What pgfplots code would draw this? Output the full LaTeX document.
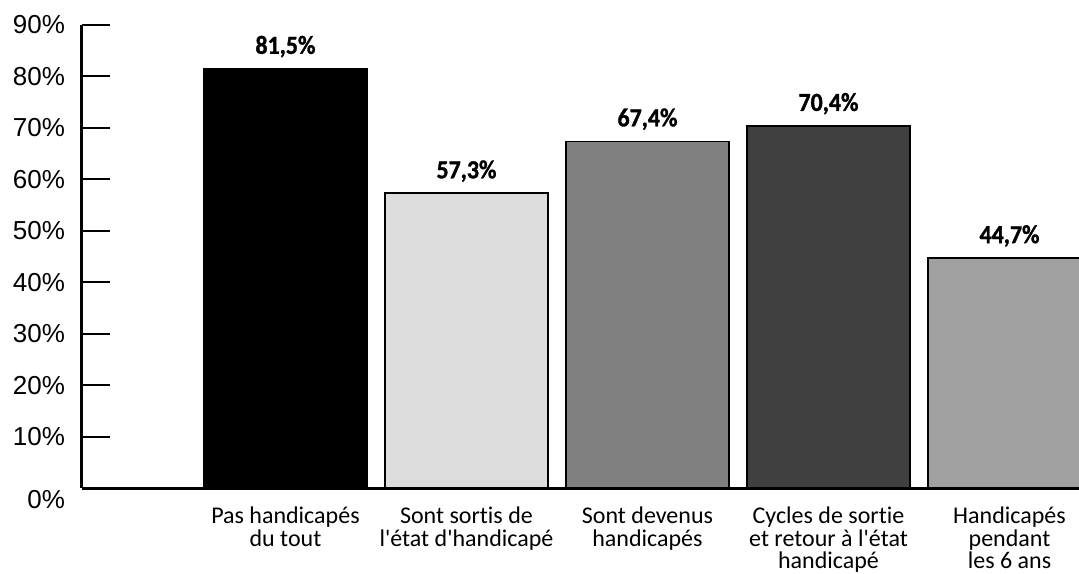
\documentclass[border=0pt]{standalone}
\usepackage{fontspec}
\setmainfont{Liberation Sans}
\newfontfamily\catfont[Ligatures=NoCommon]{Carlito}
\newfontfamily\valfont[BoldFeatures={FakeBold=1.2}, FakeStretch=0.92]{Carlito}
\usepackage{pgfplots}
\pgfplotsset{compat=1.18}
\definecolor{barA}{HTML}{000000}
\definecolor{barB}{HTML}{DDDDDD}
\definecolor{barC}{HTML}{808080}
\definecolor{barD}{HTML}{404040}
\definecolor{barE}{HTML}{A0A0A0}
\begin{document}
\begin{tikzpicture}
\useasboundingbox (0,0) rectangle (539.5pt,286.5pt);
\begin{axis}[
  at={(41pt,42.5pt)}, anchor=south west,
  scale only axis, width=498.5pt, height=231.5pt,
  xmin=-0.124, xmax=5.384, ymin=0, ymax=90,
  axis x line=bottom, axis y line=left,
  axis line style={-, line width=1.5pt},
  ytick={10,20,...,90},
  yticklabels={10\%,20\%,30\%,40\%,50\%,60\%,70\%,80\%,90\%},
  extra y ticks={0}, extra y tick labels={0\%},
  extra y tick style={yticklabel style={yshift=-6pt}},
  y tick label style={font=\fontsize{13}{13}\selectfont, xshift=-5pt},
  tick align=inside, major tick length=14pt,
  ytick style={line width=1pt, black},
  xtick={1,...,5}, xtick style={draw=none},
  xticklabels={{Pas handicapés\\du tout},
               {Sont sortis de\\l\textquotesingle état d\textquotesingle handicapé},
               {Sont devenus\\handicapés},
               {Cycles de sortie\\et retour à l\textquotesingle état\\handicapé},
               {Handicapés\\pendant\\les 6 ans}},
  x tick label style={font=\catfont\fontsize{12}{11.3}\selectfont, align=center, yshift=8pt},
  ybar, bar width=0.9,
  every axis plot/.append style={draw=black, line width=0.75pt, bar shift=0pt},
  nodes near coords={\pgfmathprintnumber[fixed, fixed zerofill, precision=1, use comma, assume math mode=true]{\pgfplotspointmeta}\%},
  every node near coord/.append style={font=\valfont\bfseries\fontsize{13}{13}\selectfont, black, yshift=2pt},
]
\addplot[fill=barA] coordinates {(1,81.5)};
\addplot[fill=barB] coordinates {(2,57.3)};
\addplot[fill=barC] coordinates {(3,67.4)};
\addplot[fill=barD] coordinates {(4,70.4)};
\addplot[fill=barE] coordinates {(5,44.7)};
\end{axis}
\end{tikzpicture}
\end{document}
